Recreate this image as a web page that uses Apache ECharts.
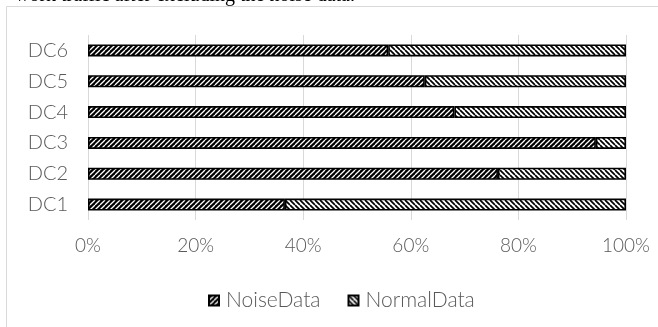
<!DOCTYPE html>
<html>
<head>
<meta charset="utf-8">
<script src="https://cdn.jsdelivr.net/npm/echarts@6/dist/echarts.min.js"></script>
<style>
  html, body { margin: 0; padding: 0; background: #fff; }
  #chart { width: 658px; height: 327px; }
</style>
</head>
<body>
<div id="chart"></div>
<script>
// Share of noise vs. normal traffic per data center (percent)
const categories = ['DC1', 'DC2', 'DC3', 'DC4', 'DC5', 'DC6'];
const noiseData = [36.6, 76.2, 94.4, 68.1, 62.6, 55.8];
const normalData = [63.4, 23.8, 5.6, 31.9, 37.4, 44.2];
const tickLabels = ['0%', '20%', '40%', '60%', '80%', '100%'];

// Hatch fill: diagonal stripes on a small repeating tile
function hatch(bg, fg, lineW, up, p) {
  const c = document.createElement('canvas');
  c.width = p; c.height = p;
  const g = c.getContext('2d');
  g.fillStyle = bg;
  g.fillRect(0, 0, p, p);
  g.strokeStyle = fg;
  g.lineWidth = lineW;
  for (let k = -1; k <= 1; k++) {
    g.beginPath();
    if (up) {
      g.moveTo(k * p, p);
      g.lineTo(k * p + p, 0);
    } else {
      g.moveTo(k * p, 0);
      g.lineTo(k * p + p, p);
    }
    g.stroke();
  }
  return { image: c, repeat: 'repeat' };
}

const fontFam = 'Lato, "Noto Sans", sans-serif';
const textGray = '#595959';

const chart = echarts.init(document.getElementById('chart'), null, { renderer: 'canvas' });
chart.setOption({
  animation: false,
  backgroundColor: '#fff',
  graphic: [
    {
      type: 'rect',
      shape: { x: 6.5, y: 6.5, width: 700, height: 400 },
      style: { fill: 'none', stroke: '#d9d9d9', lineWidth: 1 },
      silent: true
    },
    {
      type: 'text',
      right: 303,
      top: -14,
      style: {
        text: 'work traffic after excluding the noise data.',
        font: '20px "Liberation Serif", serif',
        fill: '#000'
      },
      silent: true
    }
  ],
  grid: { left: 88, right: 32, top: 35, bottom: 107, containLabel: false },
  legend: {
    left: 203,
    top: 285,
    itemWidth: 10,
    itemHeight: 10,
    itemGap: 27,
    icon: 'rect',
    textStyle: { color: textGray, fontSize: 21, fontFamily: fontFam, fontWeight: 300, padding: [0, 0, 0, 2] },
    data: ['NoiseData', 'NormalData']
  },
  xAxis: {
    type: 'value',
    min: 0,
    max: 100,
    interval: 20,
    axisLine: { show: false },
    axisTick: { show: false },
    splitLine: { show: true, lineStyle: { color: '#d9d9d9', width: 1 } },
    axisLabel: {
      margin: 16,
      color: textGray,
      fontSize: 19,
      fontFamily: fontFam,
      fontWeight: 300,
      formatter: function (v) { return tickLabels[Math.round(v / 20)]; }
    }
  },
  yAxis: {
    type: 'category',
    data: categories,
    axisLine: { show: false },
    axisTick: { show: false },
    splitLine: { show: false },
    axisLabel: { margin: 20, color: textGray, fontSize: 20, fontFamily: fontFam, fontWeight: 300 }
  },
  series: [
    {
      name: 'NoiseData',
      type: 'bar',
      stack: 'total',
      barWidth: 12,
      data: noiseData,
      itemStyle: { color: hatch('#000', '#fff', 1.25, true, 5), borderColor: '#000', borderWidth: 1.6 }
    },
    {
      name: 'NormalData',
      type: 'bar',
      stack: 'total',
      barWidth: 12,
      data: normalData,
      itemStyle: { color: hatch('#fff', '#000', 1.7, false, 5), borderColor: '#000', borderWidth: 1.6 }
    }
  ]
});
</script>
</body>
</html>
